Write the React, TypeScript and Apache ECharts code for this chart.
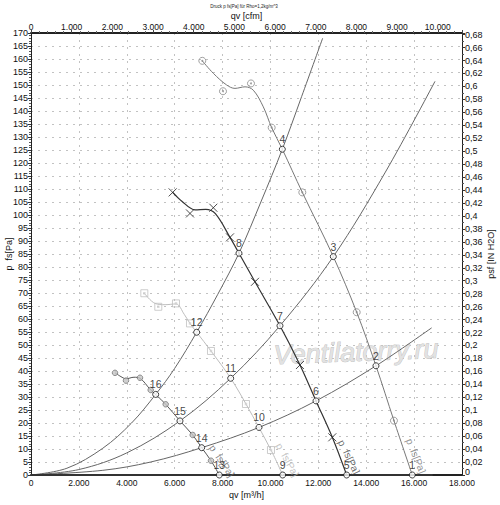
import React, { useEffect, useRef } from 'react';
import * as echarts from 'echarts';

// System curves (m³/h, Pa)
const sysCurveA: [number, number][] = [[0, 0], [1500, 2.6], [3000, 10.3], [4200, 20], [5207, 31], [6000, 41], [6919, 54.9], [7800, 69.5], [8686, 85.3], [9600, 105], [10496, 125.3], [11300, 145.5], [12181, 168]];
const sysCurveB: [number, number][] = [[0, 0], [2000, 2.1], [4000, 8.5], [6222, 20.8], [8339, 37.2], [10398, 57.4], [12625, 84], [14800, 116.5], [16872, 151.4]];
const sysCurveC: [number, number][] = [[0, 0], [3000, 1.8], [5000, 5], [7128, 10.5], [9522, 18.3], [11902, 28.5], [14407, 42], [16733, 56.6]];
const sysCurveD: [number, number][] = [[0, 0], [16775, 0]];

// Fan curves
const fan1Line: [number, number][] = [[7154, 159.3], [7614, 154.5], [8171, 150], [8519, 148.7], [8937, 149.3], [9284, 148], [9702, 141.6], [10051, 133.6], [10496, 125.3], [11331, 108.7], [12625, 84], [13602, 62.6], [14407, 42], [15158, 20.9], [15923, 0]];
const fan1Marks: [number, number][] = [[7154, 159.3], [8018, 147.6], [9187, 150.6], [10051, 133.6], [11331, 108.7], [13602, 62.6], [15158, 20.9]];

const fan2Line: [number, number][] = [[5917, 108.7], [6300, 105.3], [6849, 102], [7300, 102.2], [7700, 100.5], [8311, 91.4], [8686, 85.3], [9354, 74.3], [10398, 57.4], [11233, 42.3], [11902, 28.5], [12583, 14.5], [13183, 0]];
const fan2Marks: [number, number][] = [[5917, 108.7], [6640, 100.6], [7614, 102.8], [8311, 91.4], [9354, 74.3], [11233, 42.3], [12583, 14.5]];

const fan3Line: [number, number][] = [[4733, 69.9], [5178, 66], [5600, 65.5], [6055, 65.8], [6400, 61.8], [6640, 58.3], [6919, 54.9], [7517, 47.7], [8339, 37.2], [8978, 27.3], [10022, 9.6], [10511, 0]];
const fan3Marks: [number, number][] = [[4733, 69.9], [5316, 64.7], [6055, 66], [6640, 58.3], [7517, 47.7], [8978, 27.3], [10022, 9.6]];

const fan4Line: [number, number][] = [[3508, 39.3], [3800, 37.6], [3967, 37], [4300, 37.6], [4552, 37.2], [4998, 32.7], [5207, 31], [5625, 27.2], [6222, 20.8], [6752, 15.4], [7128, 10.5], [7517, 5.5], [7864, 0]];
const fan4Marks: [number, number][] = [[3508, 39.3], [3967, 36.3], [4552, 37.4], [4998, 32.7], [5625, 27.2], [6752, 15.4], [7517, 5.5]];

// Operating points
const opNames = ['1', '2', '3', '4', '5', '6', '7', '8', '9', '10', '11', '12', '13', '14', '15', '16'];
const opX = [15923, 14407, 12625, 10496, 13183, 11902, 10398, 8686, 10511, 9522, 8339, 6919, 7864, 7128, 6222, 5207];
const opY = [0, 42, 84, 125.3, 0, 28.5, 57.4, 85.3, 0, 18.3, 37.2, 54.9, 0, 10.5, 20.8, 31];

// Curve name labels
const curveLabelText = 'p  fs[Pa]';
const curveLabelPos: [number, number][] = [[16078, 7.3], [13280, 6.9], [10711, 5.8], [7976, 5.4]];
const curveLabelRot = [-68, -64, -61, -56];
const curveLabelColor = ['#777777', '#444444', '#b4b4b4', '#666666'];

const FONT = '"Liberation Sans", Arial, sans-serif';

const fmtThousands = (v: number) => {
  if (Math.abs(v - Math.round(v)) > 1e-6) return '';
  return String(Math.round(v)).replace(/\B(?=(\d{3})+(?!\d))/g, '.');
};
const fmtCfm = (v: number) => {
  if (Math.abs(v / 1000 - Math.round(v / 1000)) > 1e-6) return '';
  return fmtThousands(v);
};
const fmtInH2O = (v: number) => {
  if (Math.abs(v / 0.02 - Math.round(v / 0.02)) > 1e-6) return '';
  if (Math.abs(v) < 1e-9) return '{z|0}';
  return String(Math.round(v * 100) / 100).replace('.', ',');
};

const dotted = { color: '#c2c2c2', type: [2, 5] as number[], width: 1 };

function lineSeries(data: [number, number][], color: string, width: number) {
  return {
    type: 'line',
    data,
    smooth: 0.35,
    symbol: 'none',
    showSymbol: false,
    silent: true,
    color,
    lineStyle: { color, width },
    z: 2,
  };
}

export default function App() {
  const ref = useRef<HTMLDivElement>(null);
  useEffect(() => {
    if (!ref.current) return;
    const chart = echarts.init(ref.current, null, { renderer: 'svg' });
    const option: any = {
      animation: false,
      backgroundColor: '#fff',
      textStyle: { fontFamily: FONT },
      grid: { left: 31, right: 38, top: 33, bottom: 30, containLabel: false, outerBoundsMode: 'none' },
      xAxis: [
        {
          type: 'value', position: 'bottom', min: 0, max: 18000, interval: 2000,
          name: 'qv [m³/h]', nameLocation: 'middle', nameGap: 15, nameMoveOverlap: false,
          nameTextStyle: { fontSize: 9, color: '#111', fontFamily: FONT },
          axisLine: { show: true, onZero: false, lineStyle: { color: '#222', width: 2 } },
          axisTick: { show: false },
          axisLabel: { fontSize: 8.5, color: '#111', margin: 3, formatter: fmtThousands, fontFamily: FONT },
          splitLine: { show: true, lineStyle: dotted },
        },
        {
          type: 'value', position: 'top', min: 0, max: 10594.5, interval: 1000,
          name: 'qv [cfm]', nameLocation: 'middle', nameGap: 13, nameMoveOverlap: false,
          nameTextStyle: { fontSize: 9, color: '#111', fontFamily: FONT },
          axisLine: { show: true, onZero: false, lineStyle: { color: '#222', width: 2 } },
          axisTick: { show: true, length: 3, lineStyle: { color: '#444' } },
          minorTick: { show: true, splitNumber: 5, length: 2, lineStyle: { color: '#666' } },
          axisLabel: { fontSize: 8.5, color: '#111', margin: 2, formatter: fmtCfm, fontFamily: FONT },
          splitLine: { show: false },
        },
      ],
      yAxis: [
        {
          type: 'value', position: 'left', min: 0, max: 170, interval: 5,
          name: 'p  fs[Pa]', nameLocation: 'middle', nameGap: 18, nameRotate: 90, nameMoveOverlap: false,
          nameTextStyle: { fontSize: 9, color: '#111', fontFamily: FONT },
          axisLine: { show: true, onZero: false, lineStyle: { color: '#222', width: 1 } },
          axisTick: { show: true, length: 3, lineStyle: { color: '#333' } },
          minorTick: { show: true, splitNumber: 5, length: 2, lineStyle: { color: '#555' } },
          axisLabel: { fontSize: 9, color: '#111', margin: 3, fontFamily: FONT },
          splitLine: { show: true, lineStyle: dotted },
        },
        {
          type: 'value', position: 'right', min: 0, max: 170 / 249.089, interval: 0.02,
          name: 'psf [IN H2O]', nameLocation: 'middle', nameGap: 24, nameRotate: 90, nameMoveOverlap: false,
          nameTextStyle: { fontSize: 9, color: '#111', fontFamily: FONT },
          axisLine: { show: true, onZero: false, lineStyle: { color: '#222', width: 1 } },
          axisTick: { show: true, length: 3, lineStyle: { color: '#333' } },
          minorTick: { show: true, splitNumber: 2, length: 2, lineStyle: { color: '#555' } },
          axisLabel: {
            fontSize: 9, color: '#111', margin: 3, formatter: fmtInH2O, fontFamily: FONT,
            rich: { z: { fontSize: 9, color: '#111', fontFamily: FONT, padding: [0, 0, 6, 0] } },
          },
          splitLine: { show: false },
        },
      ],
      graphic: [
        {
          type: 'text', x: 244, y: 6, z: 10,
          style: { text: 'Druck p fs[Pa] für Rho=1,2kg/m^3', font: '4.5px ' + FONT, fill: '#222', align: 'center', verticalAlign: 'middle' },
        },
        {
          type: 'text', x: 356, y: 352, rotation: 0.04, z: 1,
          style: {
            text: 'Ventilatorry.ru', font: 'italic 27px ' + FONT, fill: '#e2e2e2',
            stroke: '#bdbdbd', lineWidth: 0.8, align: 'center', verticalAlign: 'middle',
          },
        },
      ],
      series: [
        lineSeries(sysCurveA, '#666', 1),
        lineSeries(sysCurveB, '#666', 1),
        lineSeries(sysCurveC, '#666', 1),
        lineSeries(sysCurveD, '#333', 2),
        lineSeries(fan3Line, '#bdbdbd', 1),
        lineSeries(fan1Line, '#777', 1),
        lineSeries(fan4Line, '#555', 1),
        lineSeries(fan2Line, '#333', 1.2),
        {
          type: 'scatter', data: fan1Marks, symbol: 'circle', symbolSize: 7, silent: true, color: '#888',
          itemStyle: { color: 'none', borderColor: '#888', borderWidth: 1 }, z: 3,
        },
        {
          type: 'scatter', data: fan1Marks, symbol: 'circle', symbolSize: 2, silent: true, color: '#888',
          itemStyle: { color: '#888' }, z: 4,
        },
        {
          type: 'scatter', data: fan2Marks, symbol: 'path://M0,0L10,10M10,0L0,10', symbolSize: 8, silent: true, color: '#222',
          itemStyle: { color: 'none', borderColor: '#222', borderWidth: 1 }, z: 3,
        },
        {
          type: 'scatter', data: fan3Marks, symbol: 'rect', symbolSize: 7, silent: true, color: '#c0c0c0',
          itemStyle: { color: 'none', borderColor: '#c0c0c0', borderWidth: 1 }, z: 3,
        },
        {
          type: 'scatter', data: fan3Marks, symbol: 'rect', symbolSize: 2.5, silent: true, color: '#d0d0d0',
          itemStyle: { color: '#d0d0d0' }, z: 4,
        },
        {
          type: 'scatter', data: fan4Marks, symbol: 'circle', symbolSize: 5.5, silent: true, color: '#bbbbbb',
          itemStyle: { color: '#c4c4c4', borderColor: '#777', borderWidth: 1 }, z: 3,
        },
        {
          type: 'scatter',
          silent: true,
          color: '#666666',
          symbol: 'circle', symbolSize: 0.1,
          itemStyle: { color: 'rgba(0,0,0,0)' },
          data: curveLabelPos.map((p, i) => ({
            value: p,
            label: { rotate: curveLabelRot[i], color: curveLabelColor[i] },
          })),
          label: {
            show: true, position: 'inside', formatter: curveLabelText, fontSize: 10, fontFamily: FONT,
            textBorderWidth: 0, textShadowBlur: 0,
          },
          z: 5,
        },
        {
          type: 'scatter',
          silent: true,
          color: '#111111',
          symbol: 'circle', symbolSize: 6,
          itemStyle: { color: '#ffffff', borderColor: '#111', borderWidth: 1 },
          data: opNames.map((n, i) => ({ name: n, value: [opX[i], opY[i]] })),
          label: {
            show: true, position: 'top', distance: 1, formatter: '{b}', fontSize: 10.5, color: '#111111', fontFamily: FONT,
            textBorderWidth: 0,
          },
          labelLayout: { hideOverlap: false },
          z: 6,
        },
      ],
    };
    chart.setOption(option);
    return () => chart.dispose();
  }, []);
  return (
    <div
      ref={ref}
      style={{ position: 'fixed', left: 0, top: 0, width: 500, height: 505, background: '#fff' }}
    />
  );
}
